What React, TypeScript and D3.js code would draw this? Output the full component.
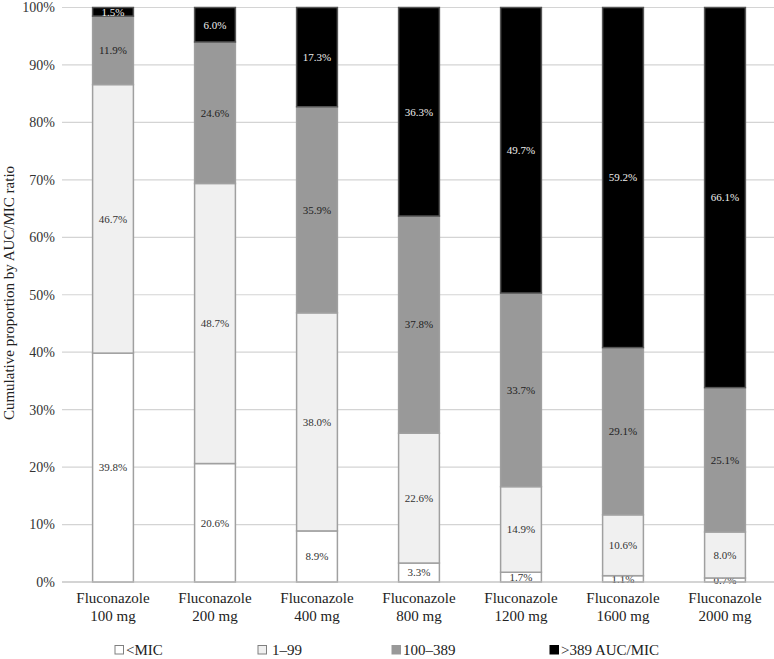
import * as d3 from 'd3';

const categories = [
  'Fluconazole 100 mg',
  'Fluconazole 200 mg',
  'Fluconazole 400 mg',
  'Fluconazole 800 mg',
  'Fluconazole 1200 mg',
  'Fluconazole 1600 mg',
  'Fluconazole 2000 mg',
];
const seriesNames = ['<MIC', '1–99', '100–389', '>389 AUC/MIC'];
const belowMic = [39.8, 20.6, 8.9, 3.3, 1.7, 1.1, 0.7];
const oneTo99 = [46.7, 48.7, 38.0, 22.6, 14.9, 10.6, 8.0];
const hundredTo389 = [11.9, 24.6, 35.9, 37.8, 33.7, 29.1, 25.1];
const above389 = [1.5, 6.0, 17.3, 36.3, 49.7, 59.2, 66.1];
const yTicks = [0, 0.1, 0.2, 0.3, 0.4, 0.5, 0.6, 0.7, 0.8, 0.9, 1];

const fills = ['#ffffff', '#f0f0f0', '#999999', '#000000'];
const textColors = ['#333333', '#333333', '#222222', '#eeeeee'];
const font = 'Liberation Serif, DejaVu Serif, Times New Roman, serif';

const width = 774;
const height = 659;
const margin = { top: 7.5, right: 0, bottom: 77, left: 62 };

export default function App() {
  const rows = categories.map((c, i) => ({
    cat: c,
    s0: belowMic[i],
    s1: oneTo99[i],
    s2: hundredTo389[i],
    s3: above389[i],
  }));
  const keys = ['s0', 's1', 's2', 's3'];
  const values = [belowMic, oneTo99, hundredTo389, above389];
  // normalise each bar to 100% (rounded shares don't always sum to 100)
  const stacked = d3
    .stack<any>()
    .keys(keys)
    .offset(d3.stackOffsetExpand)(rows);

  const x = d3
    .scaleBand()
    .domain(categories)
    .range([margin.left, width - margin.right + 2])
    .paddingInner(0.6)
    .paddingOuter(0.3);
  const y = d3
    .scaleLinear()
    .domain([0, 1])
    .range([height - margin.bottom, margin.top]);
  const fmt = d3.format('.0%');

  const legendX = [115, 258, 392, 550];

  return (
    <svg width={width} height={height} style={{ display: 'block', position: 'absolute', left: 0, top: 0, background: '#fff' }}>
      {yTicks.map((t) => (
        <g key={t}>
          <line x1={margin.left} x2={width - margin.right} y1={y(t)} y2={y(t)} stroke="#d4d4d4" strokeWidth={1.2} />
          <text x={55} y={y(t)} dy="0.35em" textAnchor="end" fontFamily={font} fontSize={14} fill="#333">
            {fmt(t)}
          </text>
        </g>
      ))}
      <text
        transform={`translate(14,293) rotate(-90)`}
        textAnchor="middle"
        fontFamily={font}
        fontSize={15}
        fill="#222"
      >
        Cumulative proportion by AUC/MIC ratio
      </text>
      {stacked.map((layer, li) => (
        <g key={li}>
          {layer.map((d, i) => (
            <rect
              key={i}
              x={x(categories[i])!}
              y={y(d[1])}
              width={x.bandwidth()}
              height={y(d[0]) - y(d[1])}
              fill={fills[li]}
              stroke={li === 3 ? '#555' : '#a0a0a0'}
              strokeWidth={1.5}
            />
          ))}
          {layer.map((d, i) => (
            <text
              key={'t' + i}
              x={x(categories[i])! + x.bandwidth() / 2}
              y={(y(d[0]) + y(d[1])) / 2}
              dy="0.35em"
              textAnchor="middle"
              fontFamily={font}
              fontSize={11}
              fill={textColors[li]}
            >
              {values[li][i].toFixed(1)}%
            </text>
          ))}
        </g>
      ))}
      <line x1={margin.left} x2={width - margin.right} y1={y(0)} y2={y(0)} stroke="#bfbfbf" strokeWidth={1.2} />
      {categories.map((c) => {
        const parts = c.split(' ');
        return (
          <text key={c} x={x(c)! + x.bandwidth() / 2} textAnchor="middle" fontFamily={font} fontSize={15} fill="#222">
            <tspan x={x(c)! + x.bandwidth() / 2} y={603}>
              {parts[0]}
            </tspan>
            <tspan x={x(c)! + x.bandwidth() / 2} y={621}>
              {parts.slice(1).join(' ')}
            </tspan>
          </text>
        );
      })}
      {seriesNames.map((s, i) => (
        <g key={s} transform={`translate(${legendX[i]},650)`}>
          <rect x={0} y={-4.5} width={8.5} height={8.5} fill={fills[i]} stroke={i < 2 ? '#808080' : fills[i]} strokeWidth={1} />
          <text x={i === 1 ? 14 : 11} y={0} dy="0.35em" fontFamily={font} fontSize={15} fill="#222">
            {s}
          </text>
        </g>
      ))}
    </svg>
  );
}
